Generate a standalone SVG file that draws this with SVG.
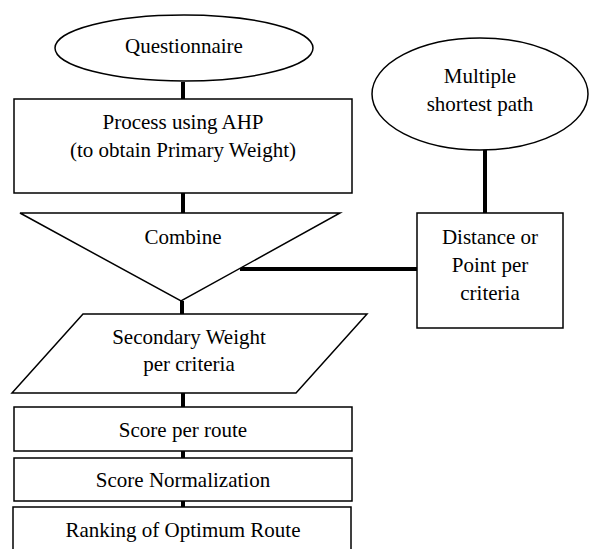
<svg xmlns="http://www.w3.org/2000/svg" width="589" height="549" viewBox="0 0 589 549">
<style>
.s{fill:#fff;stroke:#000;stroke-width:1.5}
.t{font-family:"Liberation Serif","Times New Roman",serif;font-size:21px;fill:#000;text-anchor:middle}
.c{stroke:#000;stroke-width:4;fill:none}
</style>
<rect width="589" height="549" fill="#fff"/>
<g id="connectors">
<line class="c" x1="183" y1="82" x2="183" y2="99"/>
<line class="c" x1="183" y1="193" x2="183" y2="213"/>
<line class="c" x1="485" y1="150" x2="485" y2="213"/>
<line class="c" x1="240" y1="269" x2="417" y2="269"/>
<line class="c" x1="182" y1="301" x2="182" y2="314"/>
<line class="c" x1="183" y1="393" x2="183" y2="407"/>
<line class="c" x1="183" y1="451" x2="183" y2="458"/>
<line class="c" x1="183" y1="501" x2="183" y2="507"/>
</g>
<g id="questionnaire">
<ellipse class="s" cx="184" cy="48" rx="129" ry="33"/>
<text class="t" x="184" y="53">Questionnaire</text>
</g>
<g id="ahp">
<rect class="s" x="14" y="99" width="338" height="94"/>
<text class="t" x="183" y="129">Process using AHP</text>
<text class="t" x="183" y="157">(to obtain Primary Weight)</text>
</g>
<g id="multiple">
<ellipse class="s" cx="480" cy="94" rx="108" ry="56"/>
<text class="t" x="480" y="83">Multiple</text>
<text class="t" x="480" y="111">shortest path</text>
</g>
<g id="combine">
<polygon class="s" points="20,213 340,213 181,301"/>
<text class="t" x="183" y="244">Combine</text>
</g>
<g id="distance">
<rect class="s" x="417" y="213" width="146" height="115"/>
<text class="t" x="490" y="244">Distance or</text>
<text class="t" x="490" y="272">Point per</text>
<text class="t" x="490" y="300">criteria</text>
</g>
<g id="secondary">
<polygon class="s" points="83,314 367,314 296,393 12,393"/>
<text class="t" x="189" y="344">Secondary Weight</text>
<text class="t" x="189" y="371">per criteria</text>
</g>
<g id="score">
<rect class="s" x="14" y="407" width="338" height="44"/>
<text class="t" x="183" y="437">Score per route</text>
</g>
<g id="normalization">
<rect class="s" x="14" y="458" width="338" height="43"/>
<text class="t" x="183" y="487">Score Normalization</text>
</g>
<g id="ranking">
<rect class="s" x="13" y="507" width="338" height="60"/>
<text class="t" x="183" y="537">Ranking of Optimum Route</text>
</g>
</svg>
